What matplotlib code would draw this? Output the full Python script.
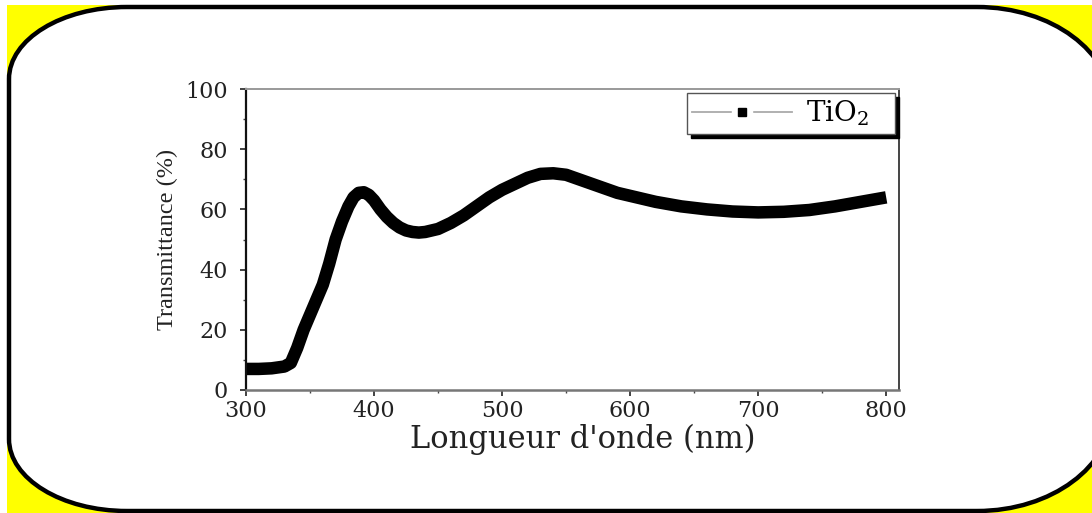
import numpy as np
import matplotlib
matplotlib.use('Agg')
import matplotlib.pyplot as plt
from matplotlib.patches import PathPatch, Rectangle
from matplotlib.path import Path
from matplotlib.lines import Line2D
from matplotlib.legend_handler import HandlerTuple
from matplotlib.ticker import MultipleLocator

# Spectre de transmittance du film TiO2.
wavelength = [300, 310, 320, 330, 335, 340, 345, 350, 355, 360, 365, 370,
              375, 380, 384, 388, 392, 396, 400, 405, 410, 415, 420, 425,
              430, 435, 440, 450, 460, 470, 480, 490, 500, 510, 520, 530,
              540, 550, 560, 570, 580, 590, 600, 620, 640, 660, 680, 700,
              720, 740, 760, 780, 800]
transmittance = [7.0, 7.0, 7.2, 7.8, 9.0, 14.0, 20.0, 25.0, 30.0, 35.0, 42.0,
                 50.0, 56.0, 61.0, 64.0, 65.5, 65.7, 64.8, 63.0, 60.0, 57.5,
                 55.5, 54.0, 53.0, 52.5, 52.3, 52.5, 53.5, 55.5, 58.0, 61.0,
                 64.0, 66.5, 68.5, 70.5, 71.8, 72.0, 71.5, 70.0, 68.5, 67.0,
                 65.5, 64.5, 62.5, 61.0, 60.0, 59.3, 59.0, 59.2, 59.8, 61.0,
                 62.5, 64.0]
series_label = 'TiO$_2$   '
x_label = "Longueur d'onde (nm)"
y_label = 'Transmittance (%)'

plt.rcParams['font.family'] = ['DejaVu Serif']
plt.rcParams['mathtext.fontset'] = 'dejavuserif'

W, H = 1092, 513
fig = plt.figure(figsize=(W / 100, H / 100), dpi=100, facecolor='white')


def rounded_box(x0, y0, x1, y1, rxl, ryl, rxr, ryr):
    '''rectangle a coins elliptiques, rayons gauche (rxl, ryl) et droite
    (rxr, ryr), en pixels'''
    k = 0.5523
    verts = [(x0 + rxl, y0), (x1 - rxr, y0),
             (x1 - rxr + k * rxr, y0), (x1, y0 + ryr - k * ryr), (x1, y0 + ryr),
             (x1, y1 - ryr),
             (x1, y1 - ryr + k * ryr), (x1 - rxr + k * rxr, y1), (x1 - rxr, y1),
             (x0 + rxl, y1),
             (x0 + rxl - k * rxl, y1), (x0, y1 - ryl + k * ryl), (x0, y1 - ryl),
             (x0, y0 + ryl),
             (x0, y0 + ryl - k * ryl), (x0 + rxl - k * rxl, y0), (x0 + rxl, y0),
             (x0 + rxl, y0)]
    codes = [Path.MOVETO, Path.LINETO,
             Path.CURVE4, Path.CURVE4, Path.CURVE4,
             Path.LINETO,
             Path.CURVE4, Path.CURVE4, Path.CURVE4,
             Path.LINETO,
             Path.CURVE4, Path.CURVE4, Path.CURVE4,
             Path.LINETO,
             Path.CURVE4, Path.CURVE4, Path.CURVE4,
             Path.CLOSEPOLY]
    return Path(verts, codes)


# fond jaune + cadre blanc arrondi
bg = fig.add_axes([0, 0, 1, 1], zorder=0)
bg.set_xlim(0, W)
bg.set_ylim(H, 0)
bg.axis('off')
bg.add_patch(Rectangle((7, 5), W - 7, H - 5, facecolor='#ffff00',
                       edgecolor='none'))
bg.add_patch(PathPatch(rounded_box(9, 7, 1112, 511, 118, 72, 135, 100),
                       facecolor='white', edgecolor='black', lw=3.2))

# graphe principal
ax = fig.add_axes([246 / W, 1 - 390 / H, (899 - 246) / W, (390 - 89) / H],
                  zorder=1)
ax.set_facecolor('white')
ax.plot(wavelength, transmittance, color='black', lw=9,
        solid_joinstyle='round', solid_capstyle='butt')

ax.set_xlim(300, 810)
ax.set_ylim(0, 100)
ax.xaxis.set_major_locator(MultipleLocator(100))
ax.xaxis.set_minor_locator(MultipleLocator(50))
ax.yaxis.set_major_locator(MultipleLocator(20))
ax.yaxis.set_minor_locator(MultipleLocator(10))
ax.tick_params(which='major', direction='out', length=4, width=1.2,
               labelsize=16, colors='#222222')
ax.tick_params(axis='x', which='major', pad=3)
ax.tick_params(axis='y', which='major', pad=9)
ax.tick_params(which='minor', direction='out', length=2, width=1,
               colors='#444444')

ax.spines['left'].set_color('#111111')
ax.spines['left'].set_linewidth(1.6)
ax.spines['bottom'].set_color('#777777')
ax.spines['bottom'].set_linewidth(1.8)
ax.spines['top'].set_color('#999999')
ax.spines['top'].set_linewidth(1.4)
ax.spines['right'].set_color('#444444')
ax.spines['right'].set_linewidth(1.4)

ax.set_xlabel(x_label, fontsize=22, color='#222222')
ax.xaxis.set_label_coords(0.515, -0.112)
ax.set_ylabel(y_label, fontsize=17.5, family=['Liberation Serif'],
              color='#222222', labelpad=5)

# legende style Origin : trait gris interrompu + carre noir
h_line = Line2D([], [], color='#aaaaaa', lw=1.3, marker='s', ms=15,
                mfc='white', mec='white')
h_mark = Line2D([], [], color='none', marker='s', ms=5.5,
                mfc='black', mec='black', ls='none')
leg = ax.legend([(h_line, h_mark)], [series_label],
                handler_map={tuple: HandlerTuple(ndivide=1, pad=0)},
                loc='upper right', fontsize=20, numpoints=1,
                handlelength=3.6, handletextpad=0.5, borderpad=0.2,
                borderaxespad=0.15, fancybox=False, framealpha=1,
                edgecolor='#555555',
                shadow={'ox': 3, 'oy': -3, 'shade': 1, 'alpha': 1})
leg.get_frame().set_linewidth(1.0)

fig.savefig('out.png', dpi=100)
